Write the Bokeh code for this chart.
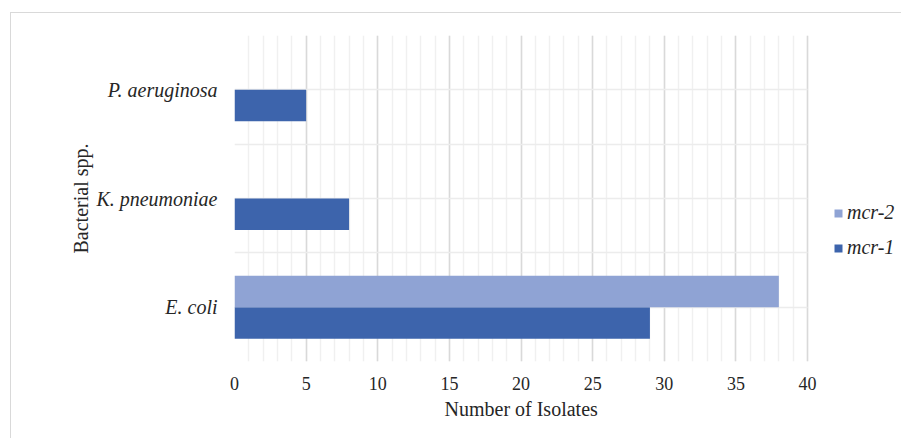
from bokeh.plotting import figure
from bokeh.models import (ColumnDataSource, FactorRange, Range1d, SingleIntervalTicker,
                          FixedTicker, Legend, LegendItem, BoxAnnotation, Title)
from bokeh.transform import dodge
from bokeh.embed import file_html
from bokeh.resources import INLINE

# ---- data (bottom to top) ----
species = ["E. coli", "K. pneumoniae", "P. aeruginosa"]
mcr1 = [29, 8, 5]
mcr2 = [38, 0, 0]
series_names = ["mcr-1", "mcr-2"]
x_title = "Number of Isolates"
y_title = "Bacterial spp."
x_max = 40

COL1 = "#3D64AC"
COL2 = "#8FA3D4"
FONT = "Liberation Serif"
BORDER = "#D9D9D9"

# layout: plot area 234..807 px holds 0..40; frame is extended to the right edge
W, H = 901, 438
LEFT, TOP, BOTTOM = 234, 35, 77
AREA_W = 573
x_end = x_max * (W - LEFT) / AREA_W

source = ColumnDataSource(dict(species=species, mcr1=mcr1, mcr2=mcr2))

p = figure(width=W, height=H,
           y_range=FactorRange(factors=species, range_padding=0),
           x_range=Range1d(0, x_end),
           output_backend="svg", toolbar_location=None,
           min_border_left=LEFT, min_border_right=0,
           min_border_top=TOP, min_border_bottom=BOTTOM)
p.outline_line_color = None
p.background_fill_color = "white"
p.border_fill_color = None

# outer chart border drawn behind the transparent canvas border area
line = f"linear-gradient({BORDER},{BORDER})"
p.styles = {
    "background-color": "white",
    "background-image": f"{line}, {line}",
    "background-position": "10px 12px, 10px 12px",
    "background-size": "1px 100%, 100% 1px",
    "background-repeat": "no-repeat, no-repeat",
}

# grids
p.xaxis.ticker = SingleIntervalTicker(interval=5, num_minor_ticks=5)
p.xaxis.bounds = (0, x_max)
p.xgrid.bounds = (0, x_max)
p.xgrid.grid_line_color = "#D9D9D9"
p.xgrid.minor_grid_line_color = "#F0F0F0"
p.xgrid.grid_line_width = 1.5
p.xgrid.minor_grid_line_width = 1.5
p.ygrid.ticker = FixedTicker(ticks=[0, 0.5, 1, 1.5, 2, 2.5, 3])
p.ygrid.grid_line_color = "#ECECEC"
p.ygrid.grid_line_width = 1.5
yg = p.ygrid[0]
if "cross_bounds" in yg.properties():
    yg.cross_bounds = (0, x_max)
else:
    p.add_layout(BoxAnnotation(left=x_max + 0.06, fill_color="white", fill_alpha=1,
                               line_color=None, level="underlay"))

r1 = p.hbar(y=dodge("species", -0.145, range=p.y_range), right="mcr1", left=0,
            height=0.29, source=source, fill_color=COL1, line_color=None)
r2 = p.hbar(y=dodge("species", 0.145, range=p.y_range), right="mcr2", left=0,
            height=0.29, source=source, fill_color=COL2, line_color=None)

for ax in (p.xaxis[0], p.yaxis[0]):
    ax.axis_line_color = None
    ax.major_tick_line_color = None
    ax.minor_tick_line_color = None
    ax.major_tick_out = 0
    ax.major_tick_in = 0
    ax.minor_tick_out = 0
    ax.minor_tick_in = 0
    ax.major_label_text_font = FONT
    ax.major_label_text_color = "#262626"
    ax.axis_label_text_font = FONT
    ax.axis_label_text_font_style = "normal"
    ax.axis_label_text_font_size = "20px"
    ax.axis_label_text_color = "#262626"

p.xaxis.major_label_text_font_size = "18px"
p.xaxis.major_label_standoff = 15

# x-axis title, placed under the middle of the 0..40 plot area
p.add_layout(Title(text=x_title, align="left", offset=210,
                   standoff=6, text_font=FONT, text_font_size="20px",
                   text_font_style="normal", text_color="#262626"), "below")

p.yaxis.axis_label = y_title
p.yaxis.major_label_text_font_size = "20px"
p.yaxis.major_label_text_font_style = "italic"
p.yaxis.major_label_standoff = 17
p.yaxis.axis_label_standoff = 1

legend = Legend(items=[LegendItem(label=series_names[1], renderers=[r2]),
                       LegendItem(label=series_names[0], renderers=[r1])],
                location=(599, 102), orientation="vertical",
                glyph_width=10, glyph_height=10, label_standoff=4,
                label_height=20, spacing=12, padding=0, margin=0,
                border_line_color=None, background_fill_alpha=0,
                label_text_font=FONT, label_text_font_style="italic",
                label_text_font_size="20px", label_text_color="#262626")
p.add_layout(legend, "center")

html = file_html(p, INLINE)
open("out.html", "w").write(html)
